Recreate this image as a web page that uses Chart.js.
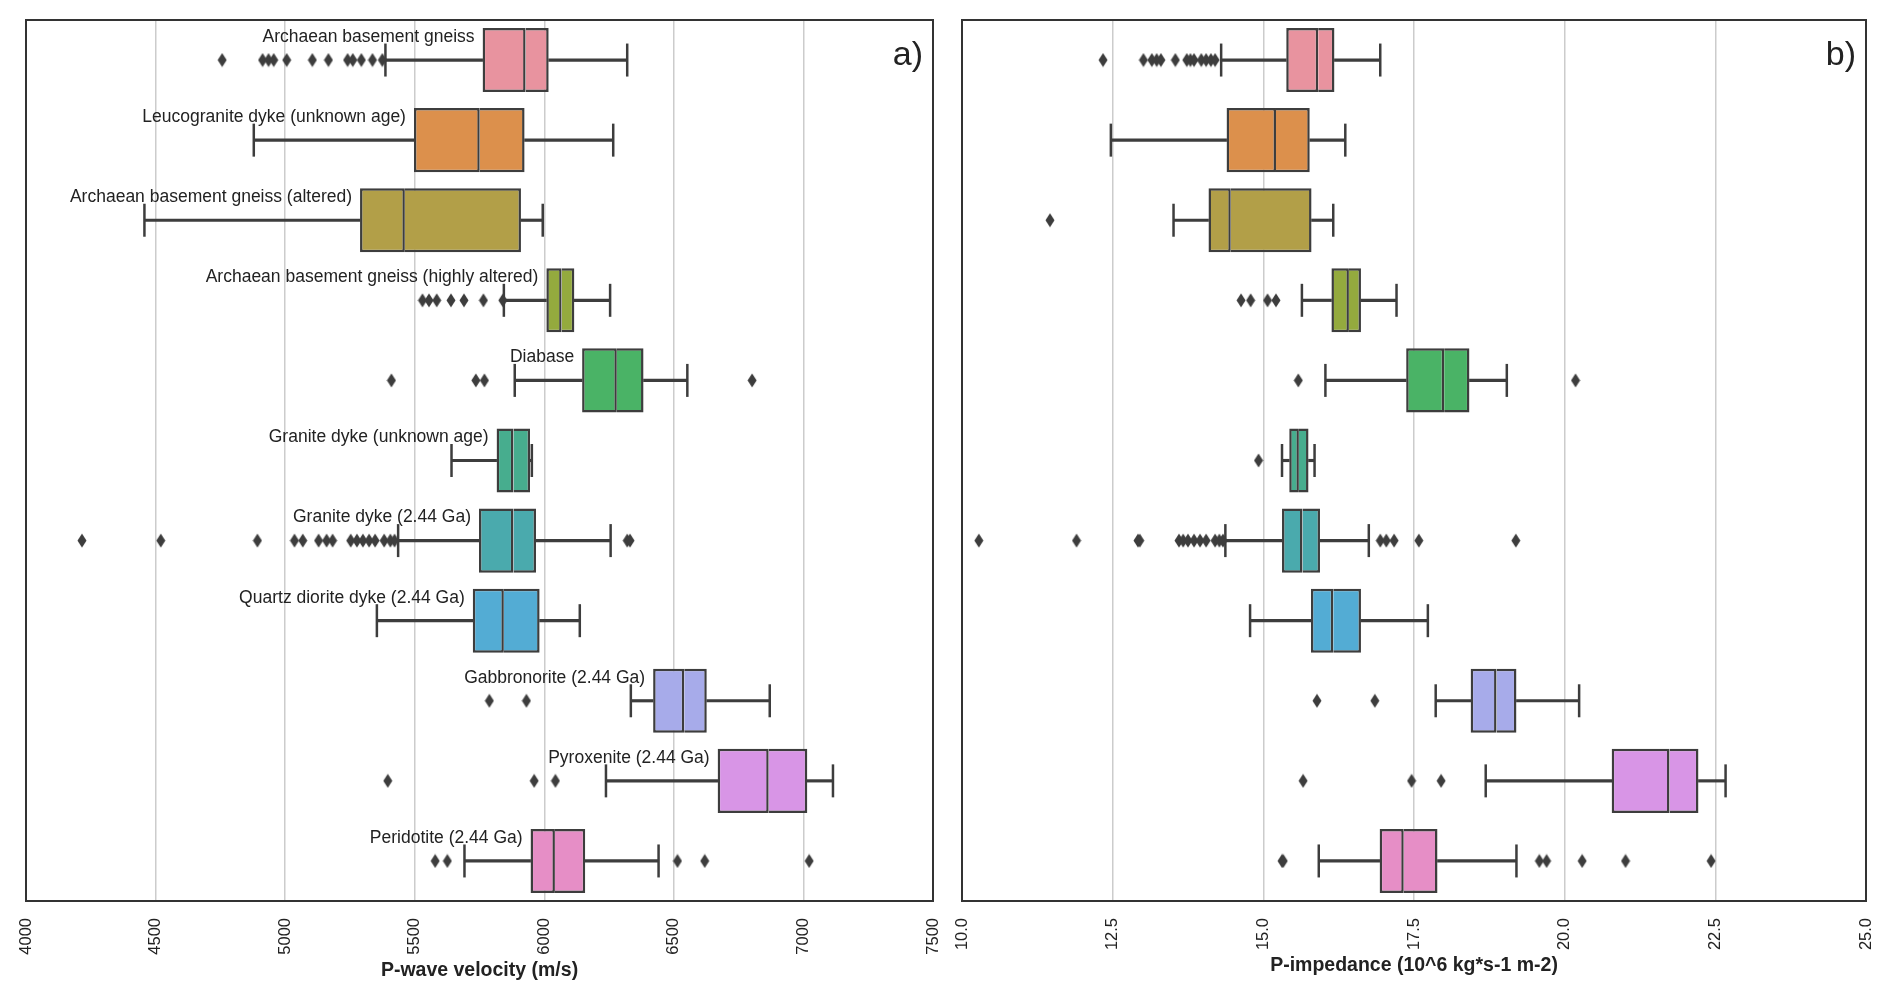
<!DOCTYPE html>
<html>
<head>
<meta charset="utf-8">
<script src="https://cdn.jsdelivr.net/npm/chart.js@4.4.1/dist/chart.umd.min.js"></script>
<style>
  html, body { margin: 0; padding: 0; background: #fff; }
  .panel { position: absolute; top: 0; width: 946px; height: 1000px; }
  #panel-a { left: 0; }
  #panel-b { left: 946px; }
</style>
</head>
<body>
<div class="panel" id="panel-a"><canvas id="chart-a"></canvas></div>
<div class="panel" id="panel-b"><canvas id="chart-b"></canvas></div>
<script>
const categories = [
  "Archaean basement gneiss",
  "Leucogranite dyke (unknown age)",
  "Archaean basement gneiss (altered)",
  "Archaean basement gneiss (highly altered)",
  "Diabase",
  "Granite dyke (unknown age)",
  "Granite dyke (2.44 Ga)",
  "Quartz diorite dyke (2.44 Ga)",
  "Gabbronorite (2.44 Ga)",
  "Pyroxenite (2.44 Ga)",
  "Peridotite (2.44 Ga)",
];
const boxColors = [
  "#e8939f", "#dc904c", "#b29f48", "#94aa3e", "#4ab366", "#47ad8e",
  "#4aaaad", "#53acd4", "#a7abea", "#d895e6", "#e68ec6",
];

// panel a) P-wave velocity (m/s)
const vpTicks = [4000, 4500, 5000, 5500, 6000, 6500, 7000, 7500];
const vpLow = [5387, 4879, 4457, 5844, 5886, 5642, 5436, 5354, 6334, 6238, 5692];
const vpQ1 = [5762, 5497, 5289, 6008, 6146, 5816, 5748, 5724, 6420, 6669, 5947];
const vpMedian = [5928, 5751, 5462, 6067, 6280, 5881, 5881, 5844, 6540, 6866, 6041];
const vpQ3 = [6017, 5924, 5910, 6116, 6383, 5945, 5968, 5982, 6627, 7015, 6158];
const vpHigh = [6320, 6266, 5994, 6254, 6552, 5952, 6256, 6137, 6870, 7114, 6441];
const vpOutliers = [
  [4757, 4913, 4936, 4956, 5006, 5105, 5167, 5241, 5261, 5294, 5337, 5375],
  [],
  [],
  [5530, 5555, 5585, 5640, 5690, 5765, 5840],
  [5410, 5736, 5769, 6802],
  [],
  [4216, 4520, 4893, 5036, 5068, 5129, 5160, 5183, 5253, 5277, 5300, 5324, 5347, 5382, 5406, 5422, 6320, 6331],
  [],
  [5788, 5931],
  [5396, 5961, 6043],
  [5579, 5626, 6514, 6619, 7022],
];

// panel b) P-impedance (10^6 kg*s-1 m-2)
const piTicks = [10, 12.5, 15, 17.5, 20, 22.5, 25];
const piLow = [14.30, 12.47, 13.51, 15.64, 16.03, 15.31, 14.37, 14.78, 17.86, 18.69, 15.92];
const piQ1 = [15.38, 14.39, 14.09, 16.13, 17.37, 15.43, 15.31, 15.79, 18.44, 20.78, 16.93];
const piMedian = [15.91, 15.21, 14.46, 16.42, 18.00, 15.59, 15.65, 16.16, 18.87, 21.74, 17.33];
const piQ3 = [16.18, 15.77, 15.80, 16.62, 18.42, 15.75, 15.94, 16.62, 19.20, 22.22, 17.89];
const piHigh = [16.94, 16.36, 16.16, 17.21, 19.04, 15.85, 16.75, 17.73, 20.24, 22.67, 19.20];
const piOutliers = [
  [12.34, 13.01, 13.15, 13.23, 13.30, 13.54, 13.73, 13.79, 13.85, 13.97, 14.05, 14.13, 14.20],
  [],
  [11.46],
  [14.63, 14.79, 15.07, 15.21],
  [15.58, 20.18],
  [14.92],
  [10.28, 11.90, 12.92, 12.95, 13.60, 13.67, 13.75, 13.85, 13.95, 14.05, 14.20, 14.27, 14.33, 16.94, 17.04, 17.17, 17.58, 19.19],
  [],
  [15.89, 16.85],
  [15.66, 17.46, 17.95],
  [15.31, 15.33, 19.58, 19.70, 20.29, 21.01, 22.43],
];

const FONT = '"Liberation Sans", Arial, Helvetica, sans-serif';
const LINE = "#3d3d3d";
const TEXT = "#222222";
Chart.defaults.font.family = FONT;

function diamondMarker(color) {
  const c = document.createElement("canvas");
  c.width = 10;
  c.height = 15;
  const g = c.getContext("2d");
  g.fillStyle = color;
  g.beginPath();
  g.moveTo(5, 0.5);
  g.lineTo(9.5, 7.5);
  g.lineTo(5, 14.5);
  g.lineTo(0.5, 7.5);
  g.closePath();
  g.fill();
  return c;
}
const flierMarker = diamondMarker(LINE);

const rowLabels = {
  id: "rowLabels",
  afterDatasetsDraw(chart, args, opts) {
    if (!opts.anchor) return;
    const { ctx, scales: { x, y } } = chart;
    ctx.save();
    ctx.font = `17.5px ${FONT}`;
    ctx.fillStyle = TEXT;
    ctx.textAlign = "right";
    ctx.textBaseline = "middle";
    categories.forEach((name, i) => {
      ctx.fillText(name, x.getPixelForValue(opts.anchor[i]) - 8, y.getPixelForValue(i) - 23);
    });
    ctx.restore();
  },
};

const frame = {
  id: "frame",
  afterDraw(chart, args, opts) {
    const { ctx, chartArea: a } = chart;
    ctx.save();
    ctx.strokeStyle = "#333333";
    ctx.lineWidth = 2;
    ctx.strokeRect(a.left, a.top, a.right - a.left, a.bottom - a.top);
    ctx.font = `34px ${FONT}`;
    ctx.fillStyle = TEXT;
    ctx.textAlign = "right";
    ctx.textBaseline = "middle";
    ctx.fillText(opts.letter, a.right - 10, a.top + 36);
    ctx.restore();
  },
};

function boxDatasets(low, q1, median, q3, high, outliers) {
  const box = {
    type: "bar",
    backgroundColor: boxColors,
    borderColor: LINE,
    borderWidth: 2.5,
    barPercentage: 0.8,
    categoryPercentage: 1,
    grouped: false,
    order: 2,
  };
  const whisker = {
    type: "bar",
    backgroundColor: LINE,
    borderWidth: 0,
    barThickness: 2.5,
    grouped: false,
    order: 3,
  };
  return [
    { ...whisker, label: "lower whisker", data: categories.map((c, i) => [low[i], q1[i]]) },
    { ...whisker, label: "upper whisker", data: categories.map((c, i) => [q3[i], high[i]]) },
    { ...box, label: "q1-median", borderSkipped: false, data: categories.map((c, i) => [q1[i], median[i]]) },
    { ...box, label: "median-q3", borderSkipped: "left", data: categories.map((c, i) => [median[i], q3[i]]) },
    {
      type: "scatter",
      label: "caps",
      data: categories.flatMap((c, i) => [{ x: low[i], y: c }, { x: high[i], y: c }]),
      pointStyle: "line",
      rotation: 90,
      pointRadius: 16.5,
      borderWidth: 2.5,
      borderColor: LINE,
      order: 1,
    },
    {
      type: "scatter",
      label: "outliers",
      data: categories.flatMap((c, i) => outliers[i].map((v) => ({ x: v, y: c }))),
      pointStyle: flierMarker,
      order: 0,
    },
  ];
}

function createPanel(canvasId, cfg) {
  return new Chart(document.getElementById(canvasId), {
    type: "bar",
    data: { labels: categories, datasets: cfg.datasets },
    plugins: [rowLabels, frame],
    options: {
      indexAxis: "y",
      responsive: true,
      maintainAspectRatio: false,
      animation: false,
      layout: { padding: cfg.padding, autoPadding: false },
      plugins: {
        legend: { display: false },
        tooltip: { enabled: false },
        rowLabels: { anchor: cfg.labelAnchor },
        frame: { letter: cfg.letter },
      },
      scales: {
        y: {
          type: "category",
          offset: true,
          display: false,
          grid: { display: false },
        },
        x: {
          type: "linear",
          min: cfg.ticks[0],
          max: cfg.ticks[cfg.ticks.length - 1],
          afterBuildTicks: (scale) => {
            scale.ticks = cfg.ticks.map((v) => ({ value: v }));
          },
          afterFit: (scale) => {
            // rotated labels would otherwise shrink the plot on the right
            scale.paddingLeft = 0;
            scale.paddingRight = 0;
            scale.height = cfg.axisHeight;
          },
          grid: { color: "#cccccc", lineWidth: 1.5, drawTicks: false },
          border: { display: false },
          ticks: {
            autoSkip: false,
            minRotation: 90,
            maxRotation: 90,
            padding: 17,
            color: TEXT,
            font: { size: 16.5 },
            callback: cfg.tickFormat,
          },
          title: {
            display: true,
            text: cfg.title,
            color: TEXT,
            font: { size: 19.5, weight: "bold" },
            padding: { top: 4, bottom: 4 },
          },
        },
      },
    },
  });
}

createPanel("chart-a", {
  datasets: boxDatasets(vpLow, vpQ1, vpMedian, vpQ3, vpHigh, vpOutliers),
  ticks: vpTicks,
  labelAnchor: vpQ1,
  letter: "a)",
  title: "P-wave velocity (m/s)",
  tickFormat: (v) => String(v),
  axisHeight: 85,
  padding: { left: 26, right: 13, top: 20, bottom: 14 },
});

createPanel("chart-b", {
  datasets: boxDatasets(piLow, piQ1, piMedian, piQ3, piHigh, piOutliers),
  ticks: piTicks,
  labelAnchor: null,
  letter: "b)",
  title: "P-impedance (10^6 kg*s-1 m-2)",
  tickFormat: (v) => Number(v).toFixed(1),
  axisHeight: 80,
  padding: { left: 16, right: 26, top: 20, bottom: 19 },
});
</script>
</body>
</html>
